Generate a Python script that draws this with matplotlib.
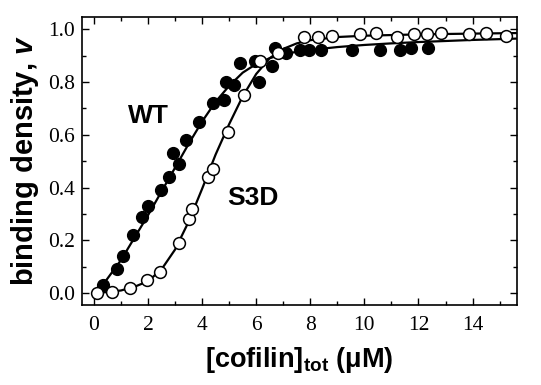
import matplotlib
matplotlib.use('Agg')
import matplotlib.pyplot as plt
from matplotlib.ticker import MultipleLocator

plt.rcParams['mathtext.fontset'] = 'custom'
plt.rcParams['mathtext.bf'] = 'Liberation Sans:bold'
plt.rcParams['mathtext.it'] = 'Liberation Sans:italic:bold'
plt.rcParams['mathtext.rm'] = 'Liberation Sans:bold'

# WT (filled circles)
wt_x = [0.35, 0.86, 1.06, 1.46, 1.77, 2.01, 2.47, 2.79, 3.15, 2.91, 3.41, 3.88,
        4.39, 4.81, 4.89, 5.19, 5.40, 5.96, 6.09, 6.58, 6.70, 7.10, 7.63, 7.94,
        8.40, 9.54, 10.57, 11.33, 11.72, 12.36]
wt_y = [0.03, 0.09, 0.14, 0.22, 0.29, 0.33, 0.39, 0.44, 0.49, 0.53, 0.58, 0.65,
        0.72, 0.73, 0.80, 0.79, 0.87, 0.88, 0.80, 0.86, 0.93, 0.91, 0.92, 0.92,
        0.92, 0.92, 0.92, 0.92, 0.93, 0.93]

# S3D (open circles)
s3d_x = [0.10, 0.68, 1.33, 1.95, 2.44, 3.16, 3.53, 3.64, 4.20, 4.39, 4.97, 5.56,
         6.15, 6.79, 7.76, 8.28, 8.82, 9.85, 10.43, 11.20, 11.82, 12.33, 12.83,
         13.86, 14.48, 15.25]
s3d_y = [0.00, 0.005, 0.02, 0.05, 0.08, 0.19, 0.28, 0.32, 0.44, 0.47, 0.61, 0.75,
         0.88, 0.91, 0.97, 0.97, 0.975, 0.98, 0.985, 0.97, 0.98, 0.98, 0.985,
         0.98, 0.985, 0.975]

# fitted curves
wt_fit_x = [0.1, 0.5, 1.0, 1.5, 2.0, 2.5, 3.0, 3.5, 4.0, 4.5, 5.0, 5.5, 6.0, 6.5,
            7.0, 7.5, 8.0, 9.0, 10.0, 11.0, 12.0, 13.0, 14.0, 15.0, 15.6]
wt_fit_y = [0.0, 0.055, 0.125, 0.21, 0.295, 0.385, 0.475, 0.565, 0.65, 0.725,
            0.785, 0.835, 0.868, 0.89, 0.905, 0.914, 0.921, 0.932, 0.94, 0.946,
            0.951, 0.955, 0.959, 0.962, 0.964]
s3d_fit_x = [0.0, 0.5, 1.0, 1.5, 2.0, 2.5, 3.0, 3.5, 4.0, 4.5, 5.0, 5.5, 6.0, 6.5,
             7.0, 7.5, 8.0, 9.0, 10.0, 12.0, 14.0, 15.6]
s3d_fit_y = [0.0, 0.004, 0.01, 0.024, 0.045, 0.09, 0.165, 0.27, 0.395, 0.525,
             0.64, 0.745, 0.83, 0.89, 0.925, 0.946, 0.958, 0.97, 0.975, 0.98,
             0.983, 0.985]

fig = plt.figure(figsize=(5.41, 3.85), dpi=100)
ax = fig.add_axes([0.1516, 0.2078, 0.8034, 0.7488])

ax.plot(wt_fit_x, wt_fit_y, '-', color='black', linewidth=1.6, zorder=2)
ax.plot(s3d_fit_x, s3d_fit_y, '-', color='black', linewidth=1.6, zorder=2)
ax.plot(wt_x, wt_y, 'o', color='black', markersize=8.5, zorder=3)
ax.plot(s3d_x, s3d_y, 'o', markerfacecolor='white', markeredgecolor='black',
        markeredgewidth=1.1, markersize=8.5, zorder=4)

ax.text(2.0, 0.67, 'WT', fontsize=19, fontweight='bold', family='Liberation Sans',
        ha='center', va='center')
ax.text(5.89, 0.36, 'S3D', fontsize=19, fontweight='bold', family='Liberation Sans',
        ha='center', va='center')

ax.set_xlim(-0.44, 15.63)
ax.set_ylim(-0.045, 1.047)
ax.xaxis.set_major_locator(MultipleLocator(2))
ax.xaxis.set_minor_locator(MultipleLocator(1))
ax.yaxis.set_major_locator(MultipleLocator(0.2))
ax.yaxis.set_minor_locator(MultipleLocator(0.1))
ax.yaxis.set_major_formatter(matplotlib.ticker.FormatStrFormatter('%.1f'))
ax.tick_params(which='both', direction='in', top=True, right=True, width=1.0)
ax.tick_params(which='major', length=5)
ax.tick_params(which='minor', length=3)
ax.tick_params(axis='x', which='major', pad=8)
ax.tick_params(axis='y', which='major', pad=5)
for lab in ax.get_xticklabels() + ax.get_yticklabels():
    lab.set_family('Liberation Serif')
    lab.set_fontsize(15.5)
for sp in ax.spines.values():
    sp.set_linewidth(1.2)

ax.set_xlabel(r'[cofilin]$_{\mathbf{tot}}$ ($\mathbf{\mu}$M)', fontsize=19.5,
              fontweight='bold', family='Liberation Sans', labelpad=7)
ax.set_ylabel(r'binding density, $v$', fontsize=21, fontweight='bold',
              family='Liberation Sans', labelpad=5)

fig.savefig('out.png', dpi=100)
